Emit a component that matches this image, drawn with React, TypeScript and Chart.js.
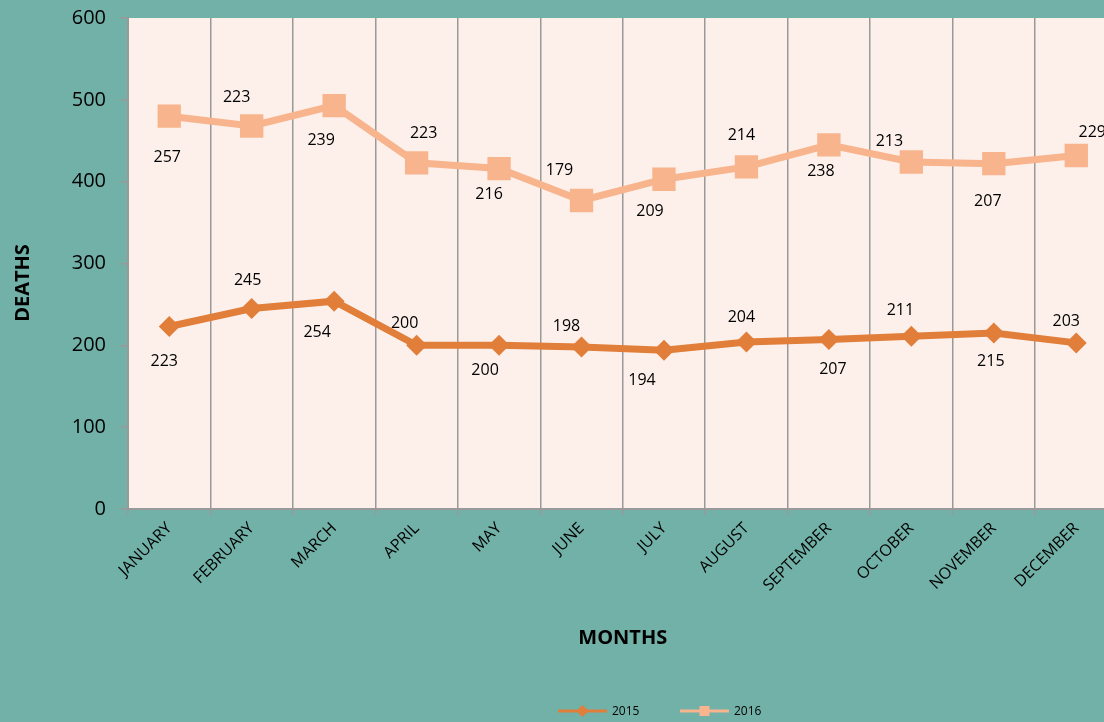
import React, { useEffect, useRef } from "react";
import { Chart, registerables } from "chart.js";

Chart.register(...registerables);

const months = ["JANUARY","FEBRUARY","MARCH","APRIL","MAY","JUNE","JULY","AUGUST","SEPTEMBER","OCTOBER","NOVEMBER","DECEMBER"];
const deaths2015 = [223, 245, 254, 200, 200, 198, 194, 204, 207, 211, 215, 203];
const deaths2016 = [257, 223, 239, 223, 216, 179, 209, 214, 238, 213, 207, 229];
const yTicks = [0, 100, 200, 300, 400, 500, 600];

// label offsets (styling only)
const lbl2015dx = [-5, -4, -17, -12, -14, -15, -22, -5, 4, -11, -3, -10];
const lbl2015dy = [35, -28, 31, -22, 25, -21, 30, -25, 30, -26, 28, -21];
const lbl2016dx = [-2, -15, -13, 7, -10, -22, -14, -5, -8, -22, -6, 16];
const lbl2016dy = [41, -29, 35, -29, 26, -30, 32, -31, 27, -21, 38, -23];

const C2015 = "#E07E3A";
const C2016 = "#F8B48C";
const BG = "#71B1A8";
const PLOT_BG = "#FDF0EB";
const FONT = "'Open Sans', 'Liberation Sans', sans-serif";

const decor = {
  id: "decor",
  beforeDraw(chart: any) {
    const { ctx, chartArea: a } = chart;
    ctx.save();
    ctx.fillStyle = BG;
    ctx.fillRect(0, 0, chart.width, chart.height);
    ctx.fillStyle = PLOT_BG;
    ctx.fillRect(a.left, a.top, a.right - a.left, a.bottom - a.top);
    ctx.restore();
  },
  afterDatasetsDraw(chart: any) {
    const { ctx } = chart;
    ctx.save();
    ctx.font = `16px ${FONT}`;
    ctx.fillStyle = "#000";
    ctx.textAlign = "center";
    ctx.textBaseline = "middle";
    const sets = [
      { vals: deaths2015, dx: lbl2015dx, dy: lbl2015dy },
      { vals: deaths2016, dx: lbl2016dx, dy: lbl2016dy },
    ];
    sets.forEach((s, di) => {
      const meta = chart.getDatasetMeta(di);
      meta.data.forEach((pt: any, i: number) => {
        ctx.fillText(String(s.vals[i]), pt.x + s.dx[i], pt.y + s.dy[i]);
      });
    });
    ctx.restore();
  },
  afterDraw(chart: any) {
    const { ctx, chartArea: a } = chart;
    ctx.save();
    ctx.fillStyle = "#000";
    ctx.font = `bold 20px ${FONT}`;
    ctx.textAlign = "center";
    ctx.textBaseline = "middle";
    ctx.fillText("MONTHS", (a.left + a.right) / 2, 638);
    ctx.save();
    ctx.translate(23, 283);
    ctx.rotate(-Math.PI / 2);
    ctx.fillText("DEATHS", 0, 0);
    ctx.restore();

    // legend
    const items = [
      { label: "2015", color: C2015, x: 558, style: "rectRot", r: 6 },
      { label: "2016", color: C2016, x: 680, style: "rect", r: 8 },
    ];
    const y = 711;
    items.forEach((it) => {
      ctx.strokeStyle = it.color;
      ctx.lineWidth = 3;
      ctx.beginPath();
      ctx.moveTo(it.x, y);
      ctx.lineTo(it.x + 49, y);
      ctx.stroke();
      ctx.fillStyle = it.color;
      const cx = it.x + 24.5;
      if (it.style === "rectRot") {
        ctx.beginPath();
        ctx.moveTo(cx, y - it.r);
        ctx.lineTo(cx + it.r, y);
        ctx.lineTo(cx, y + it.r);
        ctx.lineTo(cx - it.r, y);
        ctx.closePath();
        ctx.fill();
      } else {
        ctx.fillRect(cx - 5, y - 5, 10, 10);
      }
      ctx.fillStyle = "#000";
      ctx.font = `12px ${FONT}`;
      ctx.textAlign = "left";
      ctx.fillText(it.label, it.x + 54, y + 1);
    });
    ctx.restore();
  },
};

export default function App() {
  const ref = useRef<HTMLCanvasElement | null>(null);
  useEffect(() => {
    document.body.style.margin = "0";
    document.body.style.overflow = "hidden";
    const chart = new Chart(ref.current as HTMLCanvasElement, {
      type: "line",
      data: {
        labels: months,
        datasets: [
          {
            label: "2015",
            data: deaths2015,
            borderColor: C2015,
            backgroundColor: C2015,
            borderWidth: 7,
            pointStyle: "rectRot",
            pointRadius: 10.5,
            pointBorderWidth: 0,
            fill: false,
            tension: 0,
          },
          {
            label: "2016",
            data: deaths2016,
            borderColor: C2016,
            backgroundColor: C2016,
            borderWidth: 7,
            pointStyle: "rect",
            pointRadius: 16.5,
            pointBorderWidth: 0,
            fill: false,
            tension: 0,
          },
        ],
      },
      options: {
        animation: false,
        responsive: false,
        layout: { padding: { top: 18, right: 8, left: 0, bottom: 0 } },
        plugins: { legend: { display: false }, tooltip: { enabled: false } },
        scales: {
          x: {
            offset: true,
            grid: { offset: true, color: "#999", lineWidth: 1.5, tickLength: 6, drawOnChartArea: true },
            border: { color: "#999", width: 2 },
            ticks: {
              color: "#000",
              font: { family: FONT, size: 16 },
              minRotation: 45,
              maxRotation: 45,
              padding: 4,
            },
            afterFit: (s: any) => { s.height = 213; },
          },
          y: {
            stacked: true,
            min: 0,
            max: 600,
            afterBuildTicks: (s: any) => { s.ticks = yTicks.map((v) => ({ value: v })); },
            grid: { drawOnChartArea: false, color: "#999", tickLength: 8, lineWidth: 1.5 },
            border: { color: "#999", width: 2 },
            ticks: { color: "#000", font: { family: FONT, size: 20 }, padding: 14 },
            afterFit: (s: any) => { s.width = 128; s.paddingTop = 0; s.paddingBottom = 0; },
          },
        },
      },
      plugins: [decor],
    });
    return () => chart.destroy();
  }, []);
  return (
    <div style={{ width: 1104, height: 722, overflow: "hidden" }}>
      <canvas ref={ref} width={1134} height={722} style={{ display: "block" }} />
    </div>
  );
}
